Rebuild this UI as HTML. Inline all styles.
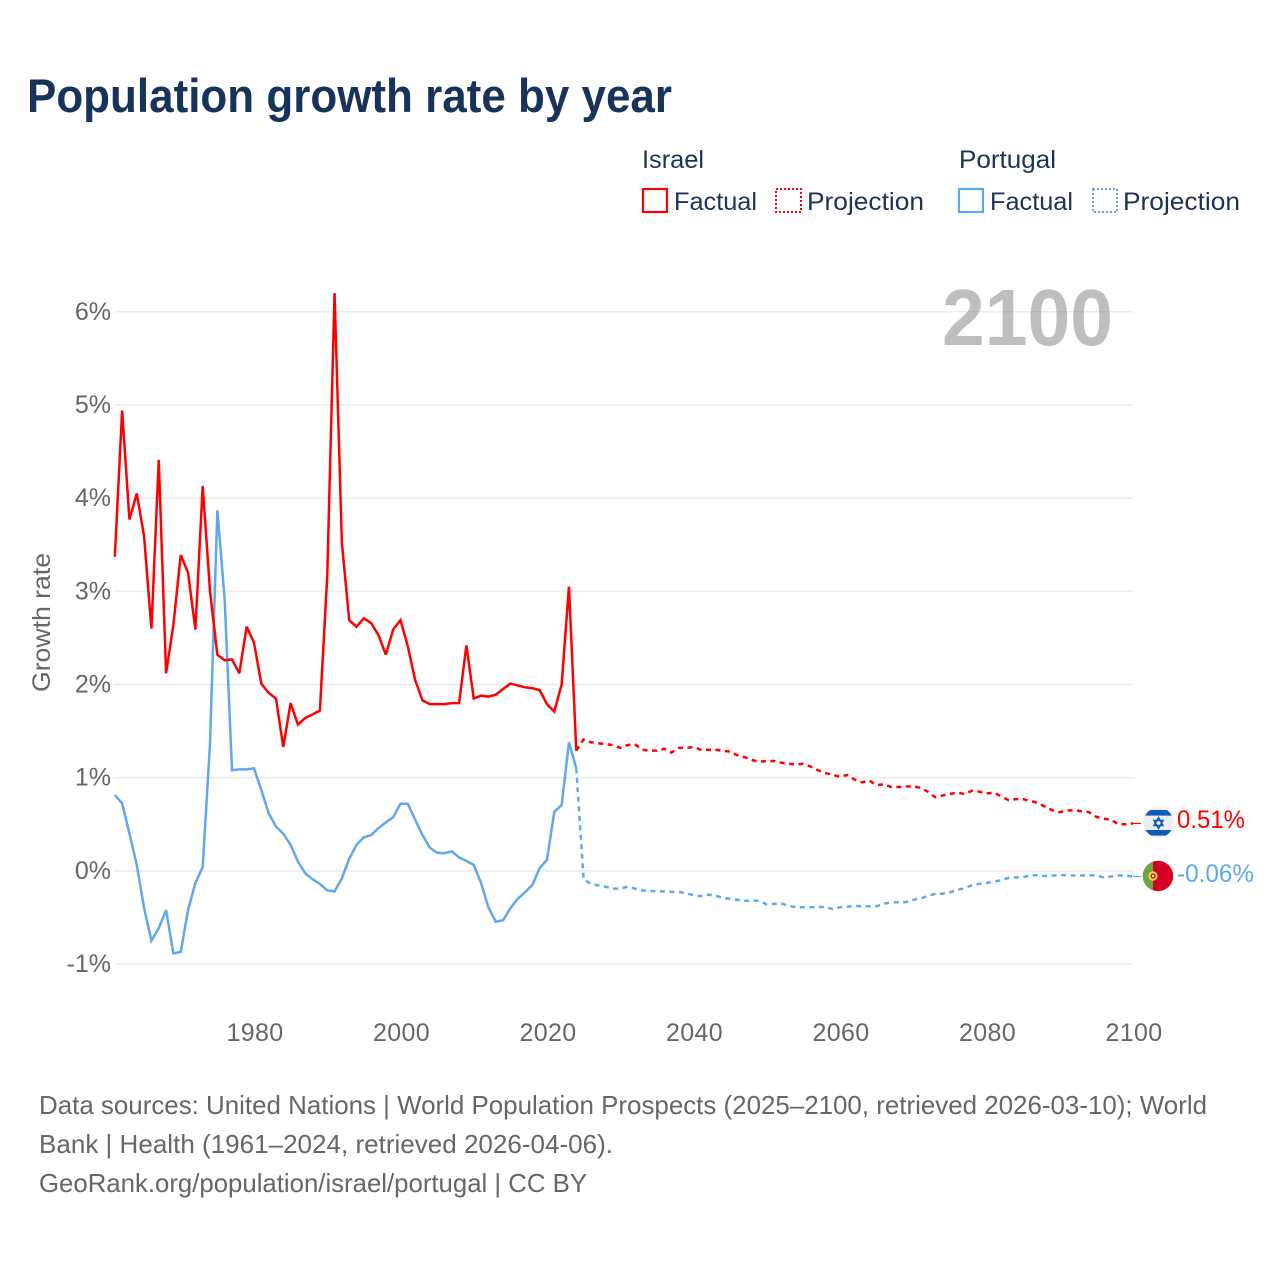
<!DOCTYPE html>
<html lang="en">
<head>
<meta charset="utf-8">
<title>Population growth rate by year</title>
<style>
  html, body { margin: 0; padding: 0; background: #ffffff; }
  svg { display: block; font-family: "Liberation Sans", sans-serif; }
</style>
</head>
<body>
<svg id="chart" xmlns="http://www.w3.org/2000/svg" width="1280" height="1280" viewBox="0 0 1280 1280">
  <rect x="0" y="0" width="1280" height="1280" fill="#ffffff"/>
  <text x="27" y="112" font-size="47" font-weight="700" fill="#17335a" textLength="645" lengthAdjust="spacingAndGlyphs">Population growth rate by year</text>

  <g>
    <text x="642" y="168" font-size="25" fill="#1b3357" textLength="62" lengthAdjust="spacingAndGlyphs">Israel</text>
    <text x="959" y="168" font-size="25" fill="#1b3357" textLength="97" lengthAdjust="spacingAndGlyphs">Portugal</text>

    <g>
      <rect x="643" y="189" width="24" height="23" fill="none" stroke="#ff0000" stroke-width="2.2"/>
      <text x="674" y="210" font-size="25" fill="#1b3357" textLength="83" lengthAdjust="spacingAndGlyphs">Factual</text>
    </g>
    <g>
      <rect x="776" y="189" width="25" height="23" fill="none" stroke="#ff0000" stroke-width="2" stroke-dasharray="2 2"/>
      <text x="807" y="210" font-size="25" fill="#1b3357" textLength="117" lengthAdjust="spacingAndGlyphs">Projection</text>
    </g>
    <g>
      <rect x="959" y="189" width="24" height="23" fill="none" stroke="#5fa8ec" stroke-width="2.2"/>
      <text x="990" y="210" font-size="25" fill="#1b3357" textLength="83" lengthAdjust="spacingAndGlyphs">Factual</text>
    </g>
    <g>
      <rect x="1093" y="189" width="24" height="23" fill="none" stroke="#5fa8ec" stroke-width="2" stroke-dasharray="2 2"/>
      <text x="1123" y="210" font-size="25" fill="#1b3357" textLength="117" lengthAdjust="spacingAndGlyphs">Projection</text>
    </g>
  </g>

  <text transform="translate(50 692) rotate(-90)" font-size="25" fill="#666666" textLength="139" lengthAdjust="spacingAndGlyphs">Growth rate</text>

  <g id="grid"></g>
  <g id="y-ticks"></g>
  <g id="x-ticks"></g>

  <text x="1113" y="345" text-anchor="end" font-size="80" font-weight="700" fill="#888888" fill-opacity="0.55" textLength="171" lengthAdjust="spacingAndGlyphs">2100</text>

  <g id="series"></g>

  <defs>
    <clipPath id="clip-il"><circle cx="1158.5" cy="822.5" r="15"/></clipPath>
    <clipPath id="clip-pt"><circle cx="1158" cy="876" r="15.2"/></clipPath>
  </defs>
  <g clip-path="url(#clip-il)">
    <rect x="1143" y="807" width="31" height="31" fill="#eeeeee"/>
    <rect x="1143" y="810" width="31" height="5.6" fill="#0f5bb5"/>
    <rect x="1143" y="830" width="31" height="5.6" fill="#0f5bb5"/>
    <polygon points="1158.5,817.5 1163,825.5 1154,825.5" fill="none" stroke="#0f5bb5" stroke-width="1.5"/>
    <polygon points="1158.5,828.5 1163,820.5 1154,820.5" fill="none" stroke="#0f5bb5" stroke-width="1.5"/>
  </g>
  <g clip-path="url(#clip-pt)">
    <rect x="1142" y="860" width="32" height="32" fill="#d80027"/>
    <rect x="1142" y="860" width="11" height="32" fill="#6da544"/>
    <circle cx="1153" cy="876" r="4.6" fill="#ffda44"/>
    <circle cx="1153" cy="876" r="2.6" fill="#d80027"/>
    <circle cx="1153" cy="876" r="1.2" fill="#eeeeee"/>
  </g>
  <text x="1177" y="828" font-size="25" fill="#ff0000" textLength="68" lengthAdjust="spacingAndGlyphs">0.51%</text>
  <text x="1177" y="882" font-size="25" fill="#5fa8ec" textLength="77" lengthAdjust="spacingAndGlyphs">-0.06%</text>

  <g font-size="26" fill="#666666">
    <text x="39" y="1114" textLength="1168" lengthAdjust="spacingAndGlyphs">Data sources: United Nations | World Population Prospects (2025–2100, retrieved 2026-03-10); World</text>
    <text x="39" y="1153" textLength="574" lengthAdjust="spacingAndGlyphs">Bank | Health (1961–2024, retrieved 2026-04-06).</text>
    <text x="39" y="1192" textLength="548" lengthAdjust="spacingAndGlyphs">GeoRank.org/population/israel/portugal | CC BY</text>
  </g>
</svg>

<script>
const factualYears = [1961,1962,1963,1964,1965,1966,1967,1968,1969,1970,1971,1972,1973,1974,1975,1976,1977,1978,1979,1980,1981,1982,1983,1984,1985,1986,1987,1988,1989,1990,1991,1992,1993,1994,1995,1996,1997,1998,1999,2000,2001,2002,2003,2004,2005,2006,2007,2008,2009,2010,2011,2012,2013,2014,2015,2016,2017,2018,2019,2020,2021,2022,2023,2024];
const projectionYears = [2024,2025,2026,2027,2028,2029,2030,2031,2032,2033,2034,2035,2036,2037,2038,2039,2040,2041,2042,2043,2044,2045,2046,2047,2048,2049,2050,2051,2052,2053,2054,2055,2056,2057,2058,2059,2060,2061,2062,2063,2064,2065,2066,2067,2068,2069,2070,2071,2072,2073,2074,2075,2076,2077,2078,2079,2080,2081,2082,2083,2084,2085,2086,2087,2088,2089,2090,2091,2092,2093,2094,2095,2096,2097,2098,2099,2100];

const israelFactual = [3.37,4.94,3.77,4.05,3.59,2.60,4.41,2.12,2.64,3.39,
  3.20,2.59,4.13,3.00,2.32,2.26,2.27,2.12,2.62,2.45,
  2.01,1.91,1.85,1.33,1.80,1.57,1.64,1.68,1.72,3.16,
  6.20,3.52,2.69,2.62,2.71,2.66,2.53,2.32,2.59,2.69,
  2.41,2.05,1.83,1.79,1.79,1.79,1.80,1.80,2.42,1.85,
  1.88,1.87,1.89,1.95,2.01,1.99,1.97,1.96,1.94,1.79,
  1.71,2.00,3.05,1.29];

const israelProjection = [1.29,
  1.41,1.38,1.37,1.36,1.35,1.32,
  1.35,1.36,1.30,1.29,1.29,1.31,1.27,1.32,1.32,1.33,
  1.30,1.30,1.30,1.29,1.28,1.24,1.22,1.19,1.17,1.18,
  1.18,1.16,1.15,1.14,1.15,1.12,1.08,1.05,1.03,1.01,
  1.03,0.98,0.95,0.97,0.92,0.93,0.90,0.90,0.905,0.91,
  0.89,0.85,0.79,0.81,0.825,0.84,0.825,0.86,0.85,0.83,
  0.84,0.80,0.76,0.77,0.77,0.75,0.73,0.69,0.65,0.63,
  0.65,0.65,0.64,0.63,0.58,0.56,0.55,0.50,0.50,0.51];

const portugalFactual = [0.815,0.725,0.40,0.065,-0.40,-0.75,-0.615,-0.42,-0.885,-0.87,
  -0.42,-0.13,0.04,1.37,3.87,2.91,1.08,1.09,1.09,1.10,
  0.87,0.62,0.475,0.40,0.28,0.10,-0.025,-0.09,-0.14,-0.21,
  -0.22,-0.08,0.13,0.28,0.36,0.385,0.46,0.52,0.575,0.72,
  0.72,0.55,0.385,0.25,0.195,0.19,0.21,0.145,0.107,0.064,
  -0.13,-0.39,-0.545,-0.53,-0.40,-0.30,-0.23,-0.15,0.03,0.118,
  0.636,0.705,1.38,1.10];

const portugalProjection = [1.10,
  -0.09,-0.14,-0.155,-0.17,-0.19,-0.19,
  -0.17,-0.19,-0.21,-0.215,-0.22,-0.22,-0.225,-0.225,-0.24,-0.26,
  -0.27,-0.255,-0.265,-0.29,-0.30,-0.31,-0.32,-0.32,-0.32,-0.36,
  -0.355,-0.35,-0.375,-0.39,-0.39,-0.39,-0.385,-0.39,-0.41,-0.39,
  -0.385,-0.375,-0.38,-0.38,-0.38,-0.35,-0.34,-0.335,-0.335,-0.31,
  -0.295,-0.27,-0.245,-0.245,-0.23,-0.205,-0.185,-0.155,-0.14,-0.13,
  -0.115,-0.10,-0.075,-0.07,-0.065,-0.05,-0.045,-0.055,-0.05,-0.045,
  -0.045,-0.05,-0.05,-0.045,-0.05,-0.07,-0.06,-0.05,-0.05,-0.06];

const yTickValues = [-1,0,1,2,3,4,5,6];
const yTickLabels = ["-1%","0%","1%","2%","3%","4%","5%","6%"];
const xTickValues = [1980,2000,2020,2040,2060,2080,2100];
const xTickLabels = ["1980","2000","2020","2040","2060","2080","2100"];

const NS = "http://www.w3.org/2000/svg";
const plotLeft = 114.8, plotRight = 1133;
const yearMin = 1961, yearMax = 2100;
const zeroY = 870.9, pxPerPercent = 93.19;

function xScale(year) {
  return plotLeft + (year - yearMin) * (plotRight - plotLeft) / (yearMax - yearMin);
}
function yScale(value) {
  return zeroY - value * pxPerPercent;
}
function pathFor(years, values) {
  return years.map(function (yr, i) {
    return (i ? "L" : "M") + xScale(yr).toFixed(2) + " " + yScale(values[i]).toFixed(2);
  }).join(" ");
}

const gridGroup = document.getElementById("grid");
const yTickGroup = document.getElementById("y-ticks");
yTickValues.forEach(function (v, i) {
  const line = document.createElementNS(NS, "line");
  
  
  line.setAttribute("x1", plotLeft);
  line.setAttribute("x2", plotRight);
  line.setAttribute("y1", yScale(v));
  line.setAttribute("y2", yScale(v));
  line.setAttribute("stroke", "#ececec");
  line.setAttribute("stroke-width", "1.6");
  gridGroup.appendChild(line);

  const label = document.createElementNS(NS, "text");
  
  
  label.setAttribute("x", 111);
  label.setAttribute("y", yScale(v) + 8);
  label.setAttribute("text-anchor", "end");
  label.setAttribute("font-size", "25");
  label.setAttribute("fill", "#666666");
  label.textContent = yTickLabels[i];
  yTickGroup.appendChild(label);
});

const xTickGroup = document.getElementById("x-ticks");
xTickValues.forEach(function (yr, i) {
  const label = document.createElementNS(NS, "text");
  
  
  label.setAttribute("x", xScale(yr) + 1);
  label.setAttribute("y", 1041);
  label.setAttribute("text-anchor", "middle");
  label.setAttribute("font-size", "25");
  label.setAttribute("letter-spacing", "0.35");
  label.setAttribute("fill", "#666666");
  label.textContent = xTickLabels[i];
  xTickGroup.appendChild(label);
});

const seriesGroup = document.getElementById("series");
function addSeries(name, years, values, color, dash) {
  const p = document.createElementNS(NS, "path");
  
  
  p.setAttribute("d", pathFor(years, values));
  p.setAttribute("fill", "none");
  p.setAttribute("stroke", color);
  p.setAttribute("stroke-width", "2.5");
  p.setAttribute("stroke-linejoin", "miter");
  p.setAttribute("stroke-miterlimit", "3");
  if (dash) p.setAttribute("stroke-dasharray", dash);
  seriesGroup.appendChild(p);
}
function addConnector(name, values, color) {
  const last = values[values.length - 1];
  const c = document.createElementNS(NS, "line");
  
  
  c.setAttribute("x1", xScale(yearMax));
  c.setAttribute("x2", xScale(yearMax) + 8);
  c.setAttribute("y1", yScale(last));
  c.setAttribute("y2", yScale(last));
  c.setAttribute("stroke", color);
  c.setAttribute("stroke-width", "1.2");
  seriesGroup.appendChild(c);
}
addSeries("portugal-factual-line", factualYears, portugalFactual, "#5fa8ec", null);
addSeries("portugal-projection-line", projectionYears, portugalProjection, "#5fa8ec", "5 4.5");
addSeries("israel-factual-line", factualYears, israelFactual, "#ff0000", null);
addSeries("israel-projection-line", projectionYears, israelProjection, "#ff0000", "5 4.5");
addConnector("israel-end-connector", israelProjection, "#ff0000");
addConnector("portugal-end-connector", portugalProjection, "#5fa8ec");
</script>
</body>
</html>
